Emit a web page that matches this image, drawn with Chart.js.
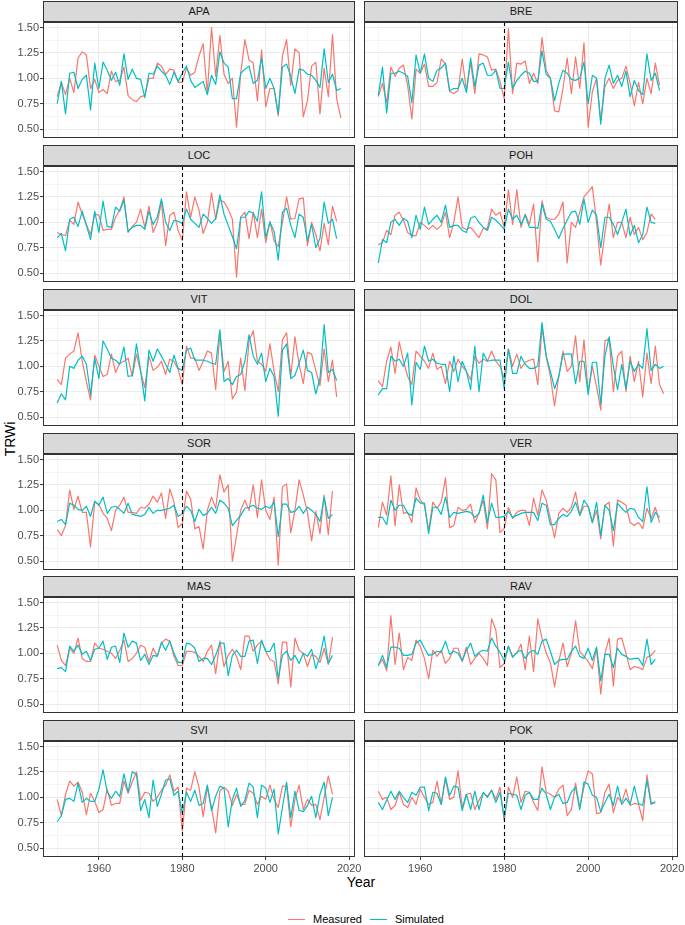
<!DOCTYPE html>
<html>
<head>
<meta charset="utf-8">
<title>TRWi measured vs simulated</title>
<script src="https://cdn.jsdelivr.net/npm/chart.js@4.4.1/dist/chart.umd.min.js"></script>
<style>
  html, body { margin: 0; padding: 0; background: #fff; }
  body {
    width: 685px; height: 925px; position: relative; overflow: hidden;
    font-family: "Liberation Sans", Arial, Helvetica, sans-serif;
  }
  canvas { position: absolute; }
  .strip {
    position: absolute; box-sizing: border-box;
    background: #D9D9D9; border: 1px solid #333333;
    color: #1A1A1A; font-size: 11px; text-align: center;
  }
  .axis-title { position: absolute; color: #000; font-size: 14px; white-space: nowrap; }
  #xTitle { left: 311px; width: 100px; top: 874px; text-align: center; }
  #yTitle { left: 9.5px; top: 439px; transform: translate(-50%, -50%) rotate(-90deg); }
  #legend {
    position: absolute; left: 288px; top: 912px; height: 14px;
    display: flex; align-items: center; font-size: 11px; color: #000;
  }
  #legend .key { width: 17px; height: 0; border-top: 1.2px solid; margin-right: 8px; }
  #legend .label { margin-right: 8px; }
</style>
</head>
<body>
<div class="axis-title" id="xTitle">Year</div>
<div class="axis-title" id="yTitle">TRWi</div>
<div id="legend">
  <span class="key" style="border-color:#F8766D"></span><span class="label">Measured</span>
  <span class="key" style="border-color:#00BFC4"></span><span class="label">Simulated</span>
</div>
<script>
// years on the x axis (each series starts in 1950)
const YEARS = [
  1950, 1951, 1952, 1953, 1954, 1955, 1956, 1957, 1958, 1959,
  1960, 1961, 1962, 1963, 1964, 1965, 1966, 1967, 1968, 1969,
  1970, 1971, 1972, 1973, 1974, 1975, 1976, 1977, 1978, 1979,
  1980, 1981, 1982, 1983, 1984, 1985, 1986, 1987, 1988, 1989,
  1990, 1991, 1992, 1993, 1994, 1995, 1996, 1997, 1998, 1999,
  2000, 2001, 2002, 2003, 2004, 2005, 2006, 2007, 2008, 2009,
  2010, 2011, 2012, 2013, 2014, 2015, 2016, 2017, 2018
]

const YEAR_TICKS = [1960, 1980, 2000, 2020]
const YEAR_MINOR = [1950, 1970, 1990, 2010]
const Y_TICKS = [0.5, 0.75, 1.0, 1.25, 1.5]
const Y_MINOR = [0.625, 0.875, 1.125, 1.375]
const BREAK_YEAR = 1980

const APA_MEASURED = [
  0.82, 0.96, 0.84, 1.00, 0.86, 1.20, 1.26, 1.23, 0.90, 0.99,
  0.86, 0.89, 0.85, 1.07, 0.97, 0.98, 1.11, 0.83, 0.79, 0.77,
  0.82, 0.83, 1.00, 1.00, 1.15, 1.12, 1.04, 1.09, 1.08, 0.96,
  0.96, 1.10, 1.03, 1.06, 1.22, 1.34, 0.85, 1.50, 1.02, 1.42,
  1.04, 0.95, 1.00, 0.52, 1.05, 1.38, 1.18, 1.15, 0.78, 1.28,
  0.72, 0.90, 0.90, 0.63, 1.22, 1.38, 0.93, 1.29, 1.25, 0.62,
  0.78, 1.12, 1.16, 0.65, 1.10, 0.82, 1.43, 0.80, 0.61
]
const APA_SIMULATED = [
  0.75, 0.97, 0.65, 1.05, 1.06, 0.90, 0.99, 1.03, 0.69, 1.15,
  0.90, 1.16, 1.08, 0.98, 1.06, 0.93, 1.24, 0.99, 1.09, 1.00,
  0.99, 0.81, 1.05, 1.04, 1.12, 1.07, 1.03, 0.94, 1.06, 0.97,
  1.05, 1.12, 0.98, 0.91, 0.94, 0.97, 0.84, 1.03, 0.94, 1.26,
  1.15, 1.11, 0.80, 0.80, 1.05, 1.09, 1.12, 0.95, 0.98, 1.20,
  0.90, 1.00, 0.90, 0.65, 1.11, 1.14, 1.02, 0.85, 1.09, 1.08,
  1.04, 1.03, 0.98, 0.91, 1.29, 0.96, 1.04, 0.88, 0.90
]

const BRE_MEASURED = [
  0.82, 0.95, 0.76, 1.11, 1.02, 1.10, 1.13, 0.93, 0.60, 1.09,
  1.05, 1.14, 0.92, 0.92, 0.96, 1.19, 1.14, 0.87, 0.85, 0.88,
  1.19, 0.88, 1.16, 0.85, 1.24, 1.23, 1.21, 1.08, 1.09, 0.97,
  0.80, 1.49, 0.85, 1.15, 1.14, 1.17, 0.95, 1.05, 0.95, 1.40,
  1.08, 1.00, 0.68, 0.67, 0.90, 1.20, 0.85, 1.21, 0.90, 1.35,
  0.52, 0.87, 1.00, 0.58, 0.92, 1.00, 0.90, 0.98, 1.00, 1.12,
  0.95, 0.73, 0.96, 0.75, 1.00, 0.85, 1.15, 0.93
]
const BRE_SIMULATED = [
  0.83, 1.11, 0.66, 1.05, 1.05, 1.07, 1.05, 1.02, 0.76, 1.23,
  1.05, 1.24, 1.00, 0.97, 1.08, 1.10, 1.15, 0.88, 0.90, 0.90,
  1.00, 0.86, 1.20, 0.92, 1.13, 1.15, 1.03, 1.03, 1.08, 0.90,
  0.90, 1.16, 0.90, 0.98, 1.03, 1.07, 1.05, 0.97, 0.97, 1.27,
  1.04, 1.00, 0.78, 0.95, 1.08, 1.05, 0.99, 0.98, 1.00, 1.16,
  0.75, 1.03, 1.00, 0.55, 1.00, 1.13, 0.95, 1.03, 0.92, 1.07,
  0.82, 0.98, 0.88, 0.84, 1.24, 0.98, 1.05, 0.88
]

const LOC_MEASURED = [
  0.90, 0.88, 0.87, 1.02, 0.98, 1.20, 1.08, 0.98, 0.88, 1.08,
  1.07, 0.92, 0.93, 0.93, 1.05, 1.12, 1.25, 0.90, 0.96, 1.00,
  1.13, 0.95, 1.16, 0.90, 1.00, 1.20, 0.77, 1.07, 1.10, 0.92,
  0.82, 1.30, 1.05, 1.25, 1.12, 0.89, 1.00, 1.29, 1.03, 1.22,
  1.20, 1.13, 1.03, 0.46, 1.05, 1.10, 0.84, 1.10, 0.85, 1.13,
  0.80, 1.01, 0.82, 0.76, 1.00, 1.25, 1.03, 1.04, 1.23, 1.24,
  0.77, 1.00, 0.88, 0.72, 0.99, 0.78, 1.16, 1.01
]
const LOC_SIMULATED = [
  0.85, 0.89, 0.72, 1.03, 1.05, 0.96, 1.11, 0.97, 0.83, 1.11,
  0.90, 1.21, 0.96, 0.95, 1.15, 1.11, 1.22, 0.91, 0.95, 0.97,
  0.97, 0.93, 1.11, 0.98, 1.05, 1.23, 1.00, 0.92, 1.02, 1.01,
  0.99, 1.13, 1.03, 0.99, 0.95, 1.08, 1.04, 0.99, 1.04, 1.27,
  1.08, 0.97, 0.86, 0.74, 1.05, 1.05, 1.11, 1.09, 1.01, 1.30,
  0.85, 1.00, 0.91, 0.63, 1.10, 1.14, 0.97, 0.85, 1.08, 1.05,
  0.82, 0.98, 0.75, 0.84, 1.20, 0.99, 1.03, 0.84
]

const POH_MEASURED = [
  0.78, 0.80, 0.92, 0.88, 1.07, 1.10, 1.02, 0.90, 0.87, 0.87,
  1.00, 0.97, 0.93, 0.97, 0.93, 0.97, 1.10, 0.85, 1.00, 1.25,
  0.95, 0.93, 0.95, 0.90, 0.85, 0.94, 0.94, 1.13, 1.07, 1.10,
  0.95, 1.32, 0.98, 1.32, 0.95, 1.08, 0.98, 1.18, 0.61, 1.21,
  1.05, 1.03, 1.03, 1.08, 1.20, 0.60, 1.00, 0.95, 1.10, 1.25,
  1.30, 1.35, 1.00, 0.58, 0.90, 1.18, 0.85, 1.00, 1.00, 0.85,
  1.05, 0.88, 0.95, 0.83, 0.90, 1.08, 1.03
]
const POH_SIMULATED = [
  0.60, 0.83, 0.80, 1.00, 1.03, 0.97, 1.04, 1.01, 0.85, 1.07,
  0.93, 1.15, 0.98, 1.03, 1.07, 1.00, 1.17, 0.95, 0.97, 0.97,
  0.92, 0.90, 1.04, 1.06, 1.00, 0.95, 0.92, 1.05, 1.02, 0.98,
  0.93, 1.13, 1.03, 1.07, 0.98, 1.07, 0.95, 0.95, 0.94, 1.18,
  1.03, 1.01, 0.93, 0.84, 0.94, 1.02, 1.10, 1.11, 0.98, 1.23,
  1.00, 1.12, 1.07, 0.75, 1.05, 1.05, 0.98, 0.88, 1.00, 1.13,
  0.87, 0.97, 0.80, 0.88, 1.15, 1.00, 0.99
]

const VIT_MEASURED = [
  0.87, 0.82, 1.08, 1.12, 1.15, 1.33, 1.05, 0.85, 0.67, 1.11,
  1.00, 0.90, 0.92, 1.12, 0.94, 1.03, 1.05, 1.08, 0.90, 1.12,
  0.95, 0.79, 1.10, 0.96, 0.99, 1.05, 0.92, 1.07, 1.05, 0.97,
  0.82, 1.20, 1.08, 1.08, 0.96, 1.05, 1.15, 1.13, 0.77, 1.33,
  0.95, 1.05, 0.68, 0.75, 1.08, 0.76, 1.25, 1.35, 1.05, 1.02,
  0.95, 1.22, 0.95, 0.75, 1.26, 1.33, 0.90, 1.29, 1.02, 0.83,
  1.14, 1.12, 0.96, 0.81, 1.17, 0.85, 1.06, 0.70
]
const VIT_SIMULATED = [
  0.64, 0.73, 0.67, 1.00, 0.98, 1.06, 1.10, 1.02, 0.72, 1.08,
  0.88, 1.25, 1.17, 1.08, 1.06, 1.02, 1.19, 0.90, 0.91, 1.22,
  0.96, 0.66, 1.16, 1.05, 1.17, 1.10, 1.02, 0.94, 1.11, 0.98,
  0.96, 1.16, 1.18, 1.06, 1.06, 1.06, 1.05, 1.03, 1.02, 1.36,
  0.85, 0.88, 0.82, 0.90, 0.92, 1.05, 1.31, 1.10, 1.02, 1.13,
  0.85, 0.98, 0.90, 0.51, 1.16, 1.22, 0.88, 0.91, 1.03, 1.16,
  0.96, 0.94, 0.73, 0.88, 1.41, 0.94, 0.97, 0.86
]

const DOL_MEASURED = [
  0.86, 0.80, 1.05, 1.19, 0.93, 1.24, 1.05, 0.90, 0.82, 1.15,
  1.10, 1.05, 0.98, 1.13, 0.97, 1.00, 0.83, 1.05, 0.95, 1.07,
  1.00, 0.95, 0.87, 1.10, 1.03, 1.07, 1.05, 1.15, 1.05, 1.00,
  0.88, 1.17, 1.00, 1.12, 0.98, 1.04, 1.06, 1.07, 0.82, 1.38,
  1.10, 0.90, 0.61, 0.90, 1.15, 0.95, 1.00, 1.30, 0.85, 1.26,
  0.75, 1.00, 0.80, 0.57, 1.25, 1.27, 0.75, 1.10, 1.15, 0.75,
  1.10, 0.85, 1.05, 0.70, 1.13, 0.83, 1.20, 0.82, 0.73
]
const DOL_SIMULATED = [
  0.72, 0.78, 0.78, 1.10, 1.05, 1.07, 1.00, 1.13, 0.62, 1.04,
  0.97, 1.20, 1.05, 1.07, 1.03, 1.02, 1.02, 0.75, 1.10, 0.85,
  1.05, 0.95, 0.77, 1.20, 0.75, 1.13, 1.05, 1.06, 1.06, 1.06,
  0.78, 1.17, 0.93, 0.93, 1.10, 1.02, 0.98, 0.98, 1.00, 1.43,
  1.10, 0.95, 0.78, 0.90, 1.12, 1.12, 1.12, 0.83, 1.05, 1.05,
  0.72, 1.04, 1.04, 0.63, 1.10, 1.29, 1.00, 0.77, 1.02, 0.78,
  1.05, 0.95, 1.02, 0.98, 1.37, 0.96, 1.02, 0.98, 1.00
]

const SOR_MEASURED = [
  0.81, 0.75, 0.85, 1.20, 1.01, 1.14, 0.98, 0.98, 0.64, 1.08,
  1.06, 0.97, 0.92, 0.80, 1.00, 1.05, 1.13, 0.98, 0.98, 0.97,
  1.03, 1.02, 1.06, 1.14, 1.08, 1.17, 0.92, 1.21, 1.08, 0.83,
  0.87, 1.19, 1.11, 0.82, 0.84, 0.62, 1.00, 1.13, 1.02, 1.35,
  1.18, 1.25, 0.50, 0.75, 1.00, 1.10, 1.00, 1.25, 0.93, 1.30,
  1.00, 0.91, 1.13, 0.46, 1.23, 1.26, 0.78, 1.00, 1.30, 1.15,
  0.98, 0.70, 0.99, 0.77, 1.15, 0.76, 1.19
]
const SOR_SIMULATED = [
  0.89, 0.91, 0.86, 1.07, 1.05, 1.01, 1.00, 1.04, 0.94, 1.09,
  1.05, 1.13, 0.97, 1.03, 1.04, 1.01, 0.97, 1.07, 0.96, 0.95,
  0.94, 0.96, 1.03, 0.97, 1.00, 1.00, 1.01, 1.02, 1.05, 0.94,
  0.97, 1.04, 1.00, 0.89, 1.01, 0.95, 0.97, 1.03, 0.97, 1.10,
  1.07, 1.02, 0.85, 0.90, 0.95, 1.02, 1.03, 1.05, 1.02, 1.01,
  1.04, 1.02, 1.08, 0.74, 1.06, 1.06, 0.98, 0.99, 1.04, 0.97,
  1.03, 1.00, 0.96, 0.89, 1.13, 0.92, 0.96
]

const VER_MEASURED = [
  0.83, 1.08, 0.95, 1.34, 0.85, 1.25, 0.97, 0.98, 0.88, 1.22,
  1.10, 1.05, 0.80, 1.08, 1.02, 1.08, 1.32, 0.83, 0.85, 1.03,
  1.00, 1.01, 1.06, 0.88, 0.97, 1.10, 0.82, 1.36, 1.30, 0.78,
  0.82, 1.03, 0.92, 0.98, 1.00, 1.00, 0.85, 1.12, 0.95, 1.20,
  1.10, 0.92, 0.73, 0.97, 1.02, 0.98, 1.03, 1.18, 0.95, 1.04,
  1.04, 0.88, 1.00, 0.72, 1.05, 1.08, 0.65, 1.10, 1.08, 1.05,
  0.88, 0.85, 0.88, 0.82, 1.02, 0.92, 1.03, 0.88
]
const VER_SIMULATED = [
  0.93, 0.93, 0.86, 1.10, 1.00, 1.05, 1.05, 0.97, 0.95, 1.12,
  1.07, 1.07, 0.77, 1.03, 1.03, 0.96, 1.13, 0.93, 0.98, 0.97,
  0.98, 0.99, 0.98, 0.93, 0.97, 1.15, 0.88, 1.07, 0.93, 0.93,
  0.94, 0.99, 0.93, 0.95, 0.97, 0.98, 0.98, 0.98, 0.90, 1.07,
  1.05, 0.86, 0.86, 0.92, 0.96, 0.94, 0.99, 1.08, 0.95, 1.10,
  1.04, 0.88, 1.08, 0.75, 1.05, 1.00, 0.80, 1.07, 1.02, 0.98,
  1.02, 1.01, 0.93, 0.89, 1.23, 0.88, 0.98, 0.93
]

const MAS_MEASURED = [
  1.08, 0.93, 0.88, 1.05, 1.00, 1.15, 0.95, 0.92, 0.92, 1.10,
  1.05, 1.04, 1.02, 1.00, 0.95, 1.03, 1.13, 0.92, 0.95, 1.00,
  1.08, 1.06, 0.92, 1.05, 0.97, 1.10, 1.14, 1.12, 0.97, 0.88,
  0.88, 1.02, 1.02, 1.01, 0.97, 0.92, 1.02, 1.08, 0.80, 1.12,
  0.87, 0.98, 1.04, 0.97, 0.84, 1.17, 1.17, 1.02, 1.08, 1.12,
  1.02, 0.94, 0.92, 0.70, 1.11, 1.11, 0.67, 1.15, 1.03, 1.00,
  0.87, 0.99, 0.97, 0.91, 1.05, 0.89, 1.16
]
const MAS_SIMULATED = [
  0.85, 0.86, 0.82, 1.07, 1.02, 1.08, 0.99, 1.02, 0.93, 1.04,
  1.05, 1.12, 0.94, 1.06, 1.07, 0.91, 1.20, 1.06, 1.12, 1.10,
  0.93, 0.99, 0.89, 0.98, 0.97, 1.11, 1.03, 1.12, 1.00, 0.91,
  0.91, 1.10, 1.09, 1.05, 0.92, 0.95, 0.95, 0.89, 0.98, 1.10,
  1.10, 0.78, 0.98, 1.03, 0.97, 0.97, 1.12, 1.13, 0.90, 1.13,
  1.02, 1.02, 1.10, 0.75, 0.98, 1.02, 0.93, 0.98, 0.90, 1.00,
  0.97, 1.04, 0.85, 0.97, 1.17, 0.90, 0.98
]

const RAV_MEASURED = [
  0.88, 0.94, 0.83, 1.37, 0.89, 1.20, 0.84, 0.96, 0.93, 1.13,
  1.07, 0.95, 0.75, 1.03, 0.97, 1.03, 0.90, 0.95, 1.05, 1.05,
  0.92, 1.06, 0.89, 0.95, 1.00, 0.95, 0.88, 1.34, 1.23, 0.86,
  0.90, 1.07, 0.97, 1.00, 1.09, 0.84, 1.17, 0.82, 1.34, 1.15,
  1.00, 0.91, 0.67, 0.92, 1.10, 0.87, 1.00, 1.32, 1.02, 0.97,
  0.92, 0.85, 1.05, 0.60, 1.00, 1.15, 0.68, 1.14, 1.15, 1.00,
  0.84, 0.87, 0.86, 0.84, 0.96, 0.98, 1.03
]
const RAV_SIMULATED = [
  0.88, 0.98, 0.86, 1.06, 1.06, 1.05, 0.98, 0.98, 0.99, 1.10,
  1.13, 1.05, 0.98, 0.99, 1.02, 1.01, 1.12, 0.99, 1.02, 1.00,
  0.93, 1.03, 1.10, 0.97, 1.01, 1.03, 1.02, 1.15, 1.07, 1.01,
  0.93, 1.07, 0.96, 1.01, 1.03, 0.95, 1.01, 1.03, 0.99, 1.12,
  1.14, 1.02, 0.89, 0.93, 0.94, 0.94, 1.02, 1.07, 0.97, 0.95,
  1.05, 0.93, 1.06, 0.73, 0.99, 0.99, 0.86, 1.05, 0.99, 0.97,
  0.94, 0.95, 0.95, 0.88, 1.14, 0.89, 0.94
]

const SVI_MEASURED = [
  0.98, 0.82, 1.03, 1.16, 1.11, 1.15, 1.05, 0.83, 1.04, 0.96,
  0.85, 0.88, 1.08, 0.92, 0.94, 0.94, 1.16, 1.04, 1.15, 1.25,
  0.97, 1.05, 1.04, 0.96, 1.00, 1.07, 1.12, 1.22, 1.06, 1.10,
  0.67, 1.09, 1.07, 1.25, 1.10, 0.81, 1.10, 0.90, 0.65, 1.06,
  1.10, 1.06, 0.92, 1.03, 0.93, 0.93, 1.07, 1.04, 0.93, 1.01,
  0.98, 1.12, 0.98, 0.90, 1.11, 1.11, 0.71, 0.98, 1.12, 0.88,
  0.98, 0.92, 0.93, 0.78, 1.00, 1.21, 1.03
]
const SVI_SIMULATED = [
  0.76, 0.82, 0.98, 0.99, 0.96, 1.14, 0.95, 0.99, 0.96, 0.96,
  1.08, 1.27, 1.05, 0.99, 1.06, 1.01, 1.23, 1.05, 1.25, 1.23,
  0.87, 0.98, 0.80, 1.17, 0.91, 1.03, 1.17, 1.18, 1.02, 1.06,
  0.84, 1.05, 0.96, 1.07, 0.92, 0.94, 1.12, 0.87, 1.01, 1.11,
  1.09, 0.71, 0.98, 1.09, 0.91, 0.97, 1.14, 1.10, 0.80, 1.12,
  1.09, 0.95, 1.08, 0.64, 0.90, 1.15, 0.80, 1.06, 0.87, 0.86,
  0.92, 1.01, 0.80, 1.03, 1.15, 0.82, 1.00
]

const POK_MEASURED = [
  1.06, 0.98, 1.00, 0.88, 0.92, 1.05, 0.93, 0.90, 1.00, 0.93,
  1.08, 1.00, 0.93, 0.95, 1.16, 0.93, 1.18, 0.98, 1.00, 1.26,
  0.90, 1.03, 1.04, 0.88, 0.97, 1.04, 1.01, 1.07, 0.98, 1.10,
  0.77, 1.10, 1.00, 1.20, 0.95, 1.06, 1.05, 0.95, 0.87, 1.30,
  1.05, 1.03, 1.00, 1.08, 1.12, 0.82, 0.88, 1.14, 0.90, 1.10,
  1.26, 1.23, 0.84, 0.85, 1.05, 1.13, 0.85, 1.00, 0.95, 1.08,
  0.92, 0.94, 0.93, 0.77, 1.22, 0.95, 0.94
]
const POK_SIMULATED = [
  0.95, 0.88, 0.97, 1.06, 0.98, 1.06, 1.00, 0.95, 1.05, 1.02,
  1.10, 1.10, 0.87, 1.05, 1.04, 0.93, 1.20, 1.02, 1.11, 1.10,
  0.87, 1.03, 0.88, 1.06, 0.88, 1.05, 1.00, 1.07, 0.95, 1.05,
  0.80, 1.04, 1.03, 1.02, 0.88, 1.02, 1.05, 0.98, 0.98, 1.09,
  1.03, 0.88, 1.00, 1.03, 0.94, 0.95, 1.05, 1.10, 0.88, 1.15,
  1.13, 1.02, 1.00, 0.86, 0.95, 1.03, 0.92, 1.11, 0.93, 0.99,
  0.93, 1.11, 0.94, 0.92, 1.17, 0.93, 0.96
]

// facet order, row by row
const PANELS = [
  ['APA', APA_MEASURED, APA_SIMULATED],
  ['BRE', BRE_MEASURED, BRE_SIMULATED],
  ['LOC', LOC_MEASURED, LOC_SIMULATED],
  ['POH', POH_MEASURED, POH_SIMULATED],
  ['VIT', VIT_MEASURED, VIT_SIMULATED],
  ['DOL', DOL_MEASURED, DOL_SIMULATED],
  ['SOR', SOR_MEASURED, SOR_SIMULATED],
  ['VER', VER_MEASURED, VER_SIMULATED],
  ['MAS', MAS_MEASURED, MAS_SIMULATED],
  ['RAV', RAV_MEASURED, RAV_SIMULATED],
  ['SVI', SVI_MEASURED, SVI_SIMULATED],
  ['POK', POK_MEASURED, POK_SIMULATED]
]

// layout (px)
const COL_LEFT = [43, 364]
const COL_WIDTH = [312, 314]
const FIRST_ROW_TOP = 1
const ROW_STEP = 143.86
const STRIP_H = 21
const PLOT_H = 116
const Y_AXIS_W = 43
const X_AXIS_H = 22
const PAD_R = 7
const X_MIN = 1946.6
const X_MAX = 2021.4
const Y_MIN = 0.413
const Y_MAX = 1.554

const RED = '#F8766D'
const CYAN = '#00BFC4'
const GRID = '#EBEBEB'
const FRAME = '#333333'

Chart.defaults.font.family = '"Liberation Sans", Arial, Helvetica, sans-serif'
Chart.defaults.font.size = 11
Chart.defaults.color = '#4D4D4D'

const X_GRID = [...YEAR_MINOR, ...YEAR_TICKS].sort((a, b) => a - b)
const Y_GRID = [...Y_MINOR, ...Y_TICKS].sort((a, b) => a - b)
const inList = (list, v) => list.some((t) => Math.abs(t - v) < 1e-9)
const toPoints = (values) => values.map((v, i) => ({ x: YEARS[i], y: v }))

// dashed 1980 line + panel border
const panelFrame = {
  id: 'panelFrame',
  afterDatasetsDraw (chart) {
    const { ctx, chartArea: a, scales: { x } } = chart
    const px = Math.round(x.getPixelForValue(BREAK_YEAR)) + 0.5
    ctx.save()
    ctx.strokeStyle = '#000'
    ctx.lineWidth = 1.1
    ctx.setLineDash([4, 3])
    ctx.beginPath()
    ctx.moveTo(px, a.top)
    ctx.lineTo(px, a.bottom)
    ctx.stroke()
    ctx.setLineDash([])
    ctx.strokeStyle = FRAME
    ctx.lineWidth = 1
    ctx.strokeRect(a.left + 0.5, a.top + 0.5, a.right - a.left - 1, a.bottom - a.top - 1)
    ctx.restore()
  }
}

PANELS.forEach(([site, measured, simulated], index) => {
  const row = Math.floor(index / 2)
  const col = index % 2
  const top = Math.round(FIRST_ROW_TOP + row * ROW_STEP)
  const left = COL_LEFT[col]
  const width = COL_WIDTH[col]
  const axisW = col === 0 ? Y_AXIS_W : 0
  const bottomRow = row === 5
  const axisH = bottomRow ? X_AXIS_H : 0

  const strip = document.createElement('div')
  strip.className = 'strip'
  strip.style.left = left + 'px'
  strip.style.top = top + 'px'
  strip.style.width = width + 'px'
  strip.style.height = STRIP_H + 'px'
  strip.style.lineHeight = (STRIP_H - 2) + 'px'
  strip.textContent = site
  document.body.appendChild(strip)

  const canvas = document.createElement('canvas')
  const cw = axisW + width + PAD_R
  const ch = PLOT_H + axisH
  canvas.width = cw
  canvas.height = ch
  canvas.style.width = cw + 'px'
  canvas.style.height = ch + 'px'
  canvas.style.left = (left - axisW) + 'px'
  canvas.style.top = (top + STRIP_H) + 'px'
  document.body.appendChild(canvas)

  const line = (label, values, color, order) => ({
    label,
    data: toPoints(values),
    borderColor: color,
    backgroundColor: color,
    borderWidth: 1.2,
    borderJoinStyle: 'round',
    pointRadius: 0,
    tension: 0,
    fill: false,
    order
  })

  // eslint-disable-next-line no-new
  new Chart(canvas, {
    type: 'line',
    data: {
      datasets: [
        line('Measured', measured, RED, 1),
        line('Simulated', simulated, CYAN, 0)
      ]
    },
    options: {
      responsive: false,
      maintainAspectRatio: false,
      animation: false,
      events: [],
      layout: { padding: { left: 0, right: PAD_R, top: 0, bottom: 0 } },
      plugins: { legend: { display: false }, tooltip: { enabled: false } },
      scales: {
        x: {
          type: 'linear',
          bounds: 'data',
          min: X_MIN,
          max: X_MAX,
          afterBuildTicks: (s) => { s.ticks = X_GRID.map((value) => ({ value })) },
          afterFit: (s) => {
            s.height = axisH
            s.paddingLeft = 0
            s.paddingRight = 0
          },
          border: { display: false },
          grid: {
            color: GRID,
            lineWidth: (c) => (c.tick && inList(YEAR_TICKS, c.tick.value) ? 1.1 : 0.55),
            drawTicks: bottomRow,
            tickLength: 3,
            tickWidth: 1,
            tickColor: (c) => (c.tick && inList(YEAR_TICKS, c.tick.value) ? FRAME : 'rgba(0,0,0,0)')
          },
          ticks: {
            display: bottomRow,
            autoSkip: false,
            maxRotation: 0,
            padding: 2,
            color: '#4D4D4D',
            callback: (v) => (inList(YEAR_TICKS, v) ? String(v) : '')
          }
        },
        y: {
          type: 'linear',
          bounds: 'data',
          min: Y_MIN,
          max: Y_MAX,
          afterBuildTicks: (s) => { s.ticks = Y_GRID.map((value) => ({ value })) },
          afterFit: (s) => {
            s.width = axisW
            s.paddingTop = 0
            s.paddingBottom = 0
          },
          border: { display: false },
          grid: {
            color: GRID,
            lineWidth: (c) => (c.tick && inList(Y_TICKS, c.tick.value) ? 1.1 : 0.55),
            drawTicks: col === 0,
            tickLength: 3,
            tickWidth: 1,
            tickColor: (c) => (c.tick && inList(Y_TICKS, c.tick.value) ? FRAME : 'rgba(0,0,0,0)')
          },
          ticks: {
            display: col === 0,
            autoSkip: false,
            padding: 1,
            color: '#4D4D4D',
            callback: (v) => (inList(Y_TICKS, v) ? v.toFixed(2) : '')
          }
        }
      }
    },
    plugins: [panelFrame]
  })
})
</script>
</body>
</html>
